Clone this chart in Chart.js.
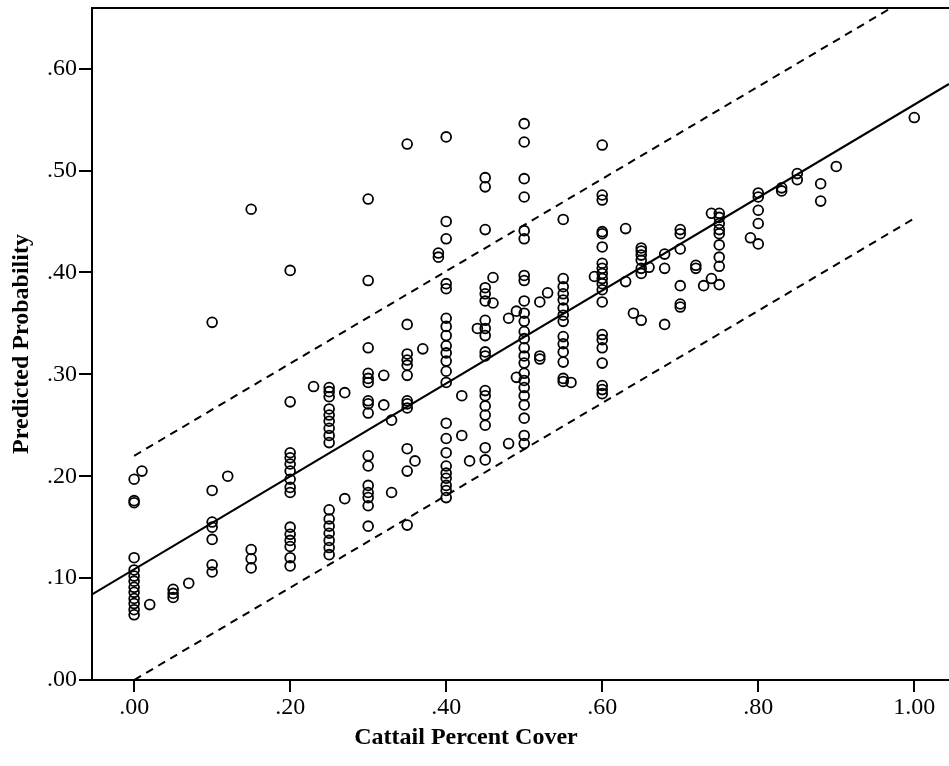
<!DOCTYPE html>
<html>
<head>
<meta charset="utf-8">
<script src="https://cdn.jsdelivr.net/npm/chart.js@4.4.1/dist/chart.umd.min.js"></script>
<style>
  html, body { margin: 0; padding: 0; background: #fff; }
  #wrap { width: 949px; height: 766px; }
</style>
</head>
<body>
<div id="wrap"><canvas id="c" width="949" height="766"></canvas></div>
<script>
// ---- data ----
const coverLevels = [0.00, 0.01, 0.02, 0.05, 0.07, 0.10, 0.12, 0.15, 0.20, 0.23, 0.25, 0.27, 0.30, 0.32, 0.33, 0.35, 0.36, 0.37, 0.39, 0.40, 0.42, 0.43, 0.44, 0.45, 0.46, 0.48, 0.49, 0.50, 0.52, 0.53, 0.55, 0.56, 0.59, 0.60, 0.63, 0.64, 0.65, 0.66, 0.68, 0.70, 0.72, 0.73, 0.74, 0.75, 0.79, 0.80, 0.83, 0.85, 0.88, 0.90, 1.00];
const probAtLevel = [
  [0.197, 0.176, 0.174, 0.120, 0.108, 0.102, 0.097, 0.091, 0.086, 0.080, 0.075, 0.069, 0.064],
  [0.205],
  [0.074],
  [0.089, 0.085, 0.081],
  [0.095],
  [0.351, 0.186, 0.155, 0.150, 0.138, 0.113, 0.106],
  [0.200],
  [0.462, 0.128, 0.119, 0.110],
  [0.402, 0.273, 0.223, 0.218, 0.212, 0.205, 0.197, 0.189, 0.184, 0.150, 0.143, 0.137, 0.131, 0.120, 0.112],
  [0.288],
  [0.287, 0.283, 0.278, 0.266, 0.260, 0.254, 0.247, 0.240, 0.233, 0.167, 0.158, 0.151, 0.144, 0.137, 0.130, 0.123],
  [0.282, 0.178],
  [0.472, 0.392, 0.326, 0.301, 0.296, 0.292, 0.274, 0.271, 0.262, 0.220, 0.210, 0.191, 0.184, 0.179, 0.171, 0.151],
  [0.299, 0.270],
  [0.255, 0.184],
  [0.526, 0.349, 0.320, 0.314, 0.309, 0.299, 0.274, 0.271, 0.267, 0.227, 0.205, 0.152],
  [0.215],
  [0.325],
  [0.419, 0.415],
  [0.533, 0.450, 0.433, 0.389, 0.384, 0.355, 0.347, 0.338, 0.328, 0.321, 0.313, 0.303, 0.292, 0.252, 0.237, 0.223, 0.210, 0.203, 0.198, 0.191, 0.186, 0.179],
  [0.279, 0.240],
  [0.215],
  [0.345],
  [0.493, 0.484, 0.442, 0.385, 0.379, 0.372, 0.353, 0.345, 0.338, 0.322, 0.318, 0.284, 0.279, 0.269, 0.260, 0.250, 0.228, 0.216],
  [0.395, 0.370],
  [0.355, 0.232],
  [0.362, 0.297],
  [0.546, 0.528, 0.492, 0.474, 0.441, 0.433, 0.397, 0.392, 0.372, 0.360, 0.352, 0.342, 0.335, 0.326, 0.318, 0.311, 0.301, 0.294, 0.287, 0.279, 0.270, 0.257, 0.240, 0.232],
  [0.371, 0.318, 0.315],
  [0.380],
  [0.452, 0.394, 0.386, 0.379, 0.373, 0.365, 0.358, 0.352, 0.337, 0.330, 0.322, 0.312, 0.296, 0.293],
  [0.292],
  [0.396],
  [0.525, 0.476, 0.471, 0.440, 0.438, 0.425, 0.409, 0.404, 0.399, 0.394, 0.389, 0.383, 0.371, 0.339, 0.334, 0.326, 0.311, 0.289, 0.285, 0.281],
  [0.443, 0.391],
  [0.360],
  [0.424, 0.421, 0.417, 0.412, 0.404, 0.399, 0.353],
  [0.405],
  [0.418, 0.404, 0.349],
  [0.442, 0.438, 0.423, 0.387, 0.369, 0.366],
  [0.407, 0.404],
  [0.387],
  [0.458, 0.394],
  [0.458, 0.454, 0.448, 0.442, 0.438, 0.427, 0.415, 0.406, 0.388],
  [0.434],
  [0.478, 0.474, 0.461, 0.448, 0.428],
  [0.483, 0.480],
  [0.497, 0.491],
  [0.487, 0.470],
  [0.504],
  [0.552]
];
// fitted line and prediction band (end points)
const fitX = [-0.054, 1.0445];
const fitY = [0.084, 0.585];
const upperX = [0.00, 1.00];
const upperY = [0.220, 0.673];
const lowerX = [0.00, 1.00];
const lowerY = [0.000, 0.453];
// axes
const xTicks = [0.0, 0.2, 0.4, 0.6, 0.8, 1.0];
const yTicks = [0.0, 0.1, 0.2, 0.3, 0.4, 0.5, 0.6];
const xRange = [-0.054, 1.0445];
const yRange = [0.0, 0.6595];
const xTitle = 'Cattail Percent Cover';
const yTitle = 'Predicted Probability';

// ---- build chart ----
const pts = [];
coverLevels.forEach((x, i) => probAtLevel[i].forEach(y => pts.push({x: x, y: y})));
const pair = (xs, ys) => xs.map((x, i) => ({x: x, y: ys[i]}));
const fmt = v => { const s = Number(v).toFixed(2); return s.startsWith('0') ? s.slice(1) : s; };
const serif = "'Liberation Serif', 'Times New Roman', serif";

const frame = {
  id: 'frame',
  afterDraw(chart) {
    const a = chart.chartArea, ctx = chart.ctx;
    ctx.save();
    ctx.strokeStyle = '#000';
    ctx.lineWidth = 2;
    ctx.beginPath();
    ctx.moveTo(a.left - 1, a.top);
    ctx.lineTo(a.right, a.top);
    ctx.stroke();
    // axis titles
    ctx.fillStyle = '#000';
    ctx.font = 'bold 24px ' + serif;
    ctx.textAlign = 'center';
    ctx.textBaseline = 'middle';
    ctx.fillText(xTitle, 466, 738);
    ctx.translate(22, 344);
    ctx.rotate(-Math.PI / 2);
    ctx.fillText(yTitle, 0, 0);
    ctx.restore();
  }
};

const tickFont = { family: serif, size: 24 };

new Chart(document.getElementById('c'), {
  type: 'scatter',
  data: {
    datasets: [
      { label: 'obs', data: pts, pointStyle: 'circle', pointRadius: 4.9, borderWidth: 1.8,
        borderColor: '#000', backgroundColor: 'rgba(0,0,0,0)', showLine: false, order: 1 },
      { label: 'fit', data: pair(fitX, fitY), showLine: true, pointRadius: 0, borderColor: '#000',
        borderWidth: 2.2, fill: false, order: 2 },
      { label: 'upper', data: pair(upperX, upperY), showLine: true, pointRadius: 0, borderColor: '#000',
        borderWidth: 2, borderDash: [8, 6], fill: false, order: 3 },
      { label: 'lower', data: pair(lowerX, lowerY), showLine: true, pointRadius: 0, borderColor: '#000',
        borderWidth: 2, borderDash: [8, 6], fill: false, order: 4 }
    ]
  },
  options: {
    responsive: false,
    animation: false,
    devicePixelRatio: 1,
    layout: { autoPadding: false, padding: { top: 8, right: 0, left: 0, bottom: 0 } },
    plugins: { legend: { display: false }, tooltip: { enabled: false } },
    scales: {
      x: {
        type: 'linear', position: 'bottom', min: xRange[0], max: xRange[1],
        afterBuildTicks: s => { s.ticks = xTicks.map(v => ({ value: v })); },
        afterFit: s => { s.height = 86; s.paddingLeft = 0; s.paddingRight = 0; },
        ticks: { callback: v => fmt(v), font: tickFont, color: '#000', padding: 1, maxRotation: 0, autoSkip: false },
        grid: { drawOnChartArea: false, drawTicks: true, tickLength: 12, color: '#000', lineWidth: 2 },
        border: { display: true, color: '#000', width: 2 },
        title: { display: false }
      },
      y: {
        type: 'linear', position: 'left', min: yRange[0], max: yRange[1],
        afterBuildTicks: s => { s.ticks = yTicks.map(v => ({ value: v })); },
        afterFit: s => { s.width = 92; s.paddingTop = 0; s.paddingBottom = 0; },
        ticks: { callback: v => fmt(v), font: tickFont, color: '#000', padding: 2, autoSkip: false },
        grid: { drawOnChartArea: false, drawTicks: true, tickLength: 13, color: '#000', lineWidth: 2 },
        border: { display: true, color: '#000', width: 2 },
        title: { display: false }
      }
    }
  },
  plugins: [frame]
});
</script>
</body>
</html>
